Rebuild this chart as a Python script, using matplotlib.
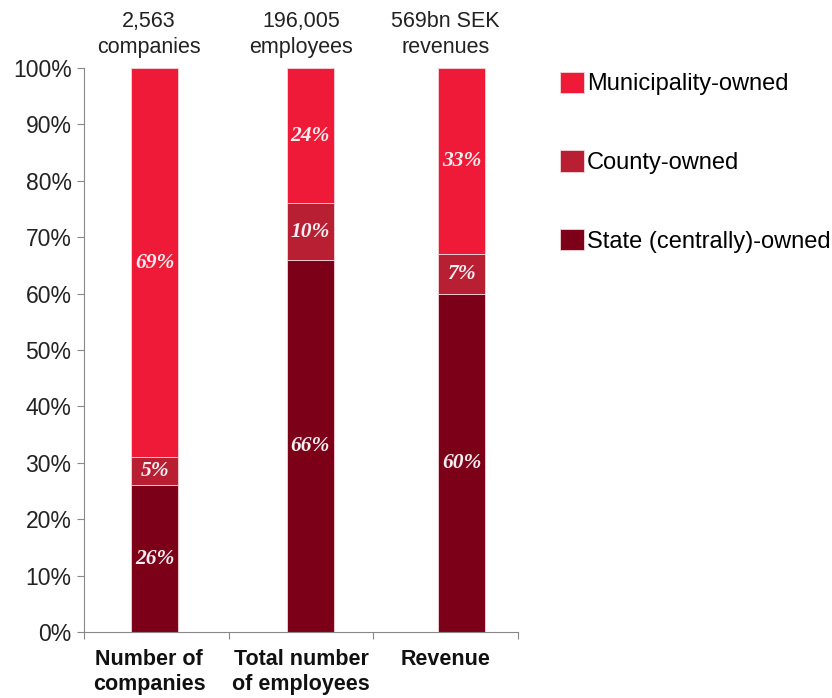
import numpy as np
import matplotlib.pyplot as plt
from matplotlib.patches import Patch

plt.rcParams['font.family'] = ['Liberation Sans', 'DejaVu Sans']

categories = ['Number of\ncompanies', 'Total number\nof employees', 'Revenue']
totals = ['2,563\ncompanies', '196,005\nemployees', '569bn SEK\nrevenues']
series = ['State (centrally)-owned', 'County-owned', 'Municipality-owned']
state = [26, 66, 60]
county = [5, 10, 7]
municipality = [69, 24, 33]
colors = ['#7d0019', '#b81f33', '#ee1a37']

values = [np.array(state), np.array(county), np.array(municipality)]

fig = plt.figure(figsize=(8.32, 6.98), dpi=100)
ax = fig.add_axes([0.101, 0.0946, 0.5216, 0.808])

centers = np.arange(len(categories)) + 0.5
label_x = centers + np.array([-0.05, 0.0, 0.0])
bar_x = centers + np.array([-0.01, 0.065, 0.11])
width = 0.325

bottom = np.zeros(len(categories))
for vals, name, col in zip(values, series, colors):
    ax.bar(bar_x, vals, width, bottom=bottom, color=col, label=name,
           edgecolor='#f4d6da', linewidth=0.6)
    for x, b, v in zip(bar_x, bottom, vals):
        ax.text(x, b + v / 2, f'{v}%', ha='center', va='center', color='#f6eef0',
                fontsize=15.5, fontweight='bold', fontstyle='italic',
                family=['Liberation Serif', 'DejaVu Serif'])
    bottom += vals

ax.set_xlim(0, 3)
ax.set_ylim(0, 100)
ax.set_yticks(np.arange(0, 101, 10))
ax.set_yticklabels([f'{t}%' for t in range(0, 101, 10)], fontsize=16.5, color='#222222')

ax.set_xticks([0, 1, 2, 3])
ax.set_xticklabels([])
ax.set_xticks(label_x, minor=True)
ax.set_xticklabels(categories, minor=True, fontsize=15.5, fontweight='bold',
                   color='#111111', linespacing=1.25)
ax.tick_params(axis='x', which='minor', length=0, pad=12)
ax.tick_params(axis='both', which='major', color='#888888', length=5)
ax.tick_params(axis='y', pad=4)

for s in ['top', 'right']:
    ax.spines[s].set_visible(False)
for s in ['left', 'bottom']:
    ax.spines[s].set_color('#888888')

for x, t in zip(label_x, totals):
    ax.text(x, 101.8, t, ha='center', va='bottom', fontsize=15.5, color='#222222',
            linespacing=1.3)

handles = [Patch(facecolor=c, edgecolor='#f4d6da', linewidth=0.6) for c in colors]
ax.legend(handles[::-1], series[::-1], loc='upper left', bbox_to_anchor=(1.075, 1.01),
          frameon=False, fontsize=17, handlelength=1.0, handleheight=1.0,
          handletextpad=0.15, labelspacing=2.33, borderaxespad=0)

fig.savefig('out.png', dpi=100)
